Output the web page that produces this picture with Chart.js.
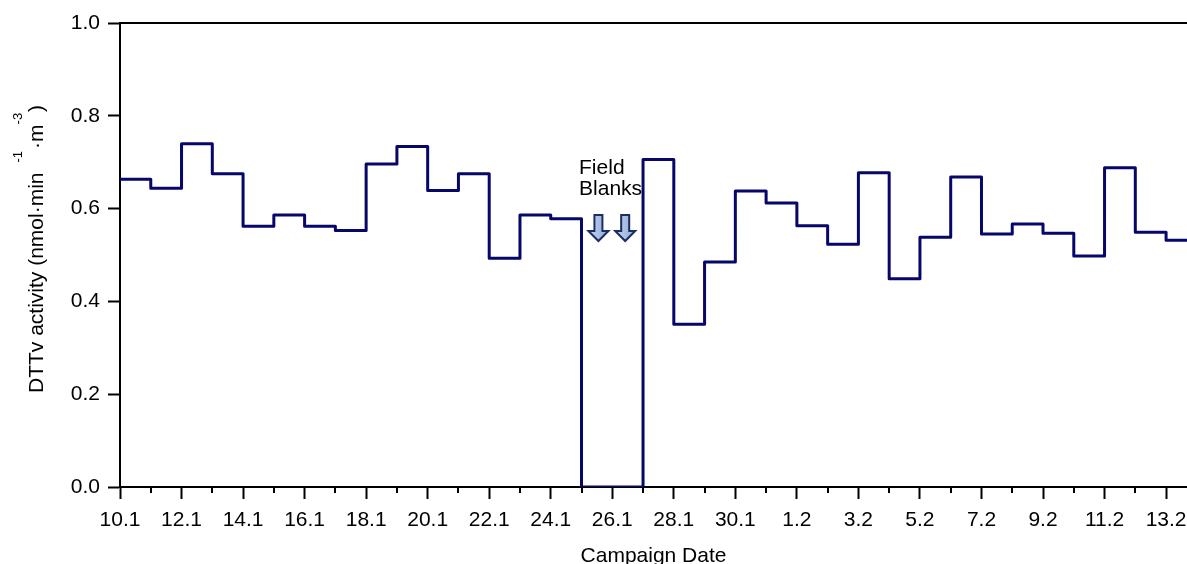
<!DOCTYPE html>
<html>
<head>
<meta charset="utf-8">
<script src="https://cdn.jsdelivr.net/npm/chart.js@4.4.1/dist/chart.umd.min.js"></script>
<style>
  html, body { margin: 0; padding: 0; background: #ffffff; }
  #wrap { width: 1187px; height: 564px; }
</style>
</head>
<body>
<div id="wrap"><canvas id="chart" width="1187" height="564"></canvas></div>
<script>
// Daily filter samples, 10 January to 13 February
const sampleDays = [
  '10.1', '11.1', '12.1', '13.1', '14.1', '15.1', '16.1', '17.1', '18.1', '19.1',
  '20.1', '21.1', '22.1', '23.1', '24.1', '25.1', '26.1', '27.1', '28.1', '29.1',
  '30.1', '31.1', '1.2', '2.2', '3.2', '4.2', '5.2', '6.2', '7.2', '8.2',
  '9.2', '10.2', '11.2', '12.2', '13.2'
];

// Volume-normalised DTT activity, nmol·min⁻¹·m⁻³ (25.1 and 26.1 are field blanks)
const dttActivity = [
  0.663, 0.644, 0.740, 0.675, 0.562, 0.586, 0.562, 0.553, 0.696, 0.734,
  0.639, 0.675, 0.493, 0.586, 0.578, 0.000, 0.000, 0.706, 0.351, 0.485,
  0.638, 0.612, 0.563, 0.523, 0.677, 0.449, 0.538, 0.668, 0.545, 0.567,
  0.547, 0.498, 0.688, 0.549, 0.532
];

const yTickValues = [0.0, 0.2, 0.4, 0.6, 0.8, 1.0];

// "Field Blanks" note: text anchor and arrow tips, in axis units
const blankNoteAt = { x: 14.92, y: 0.674 };
const blankArrowX = [15.55, 16.42];
const blankArrowTipY = 0.530;

const FONT = '"Liberation Sans", Arial, Helvetica, sans-serif';
const FONT_SIZE = 21;
const INK = '#000000';
const LINE = '#07076a';

// each sample holds its value for one whole day: start points + closing point
const stepPoints = dttActivity.map((v, i) => ({ x: i, y: v }));
stepPoints.push({ x: dttActivity.length, y: dttActivity[dttActivity.length - 1] });

function drawYTitle(ctx, area) {
  const main = FONT_SIZE + 'px ' + FONT;
  const sup = '13px ' + FONT;
  const parts = [
    { t: 'DTTv activity (nmol·min', f: main, raise: 0, gap: 0 },
    { t: '-1', f: sup, raise: 21, gap: 10 },
    { t: '·', f: main, raise: 0, gap: 2 },
    { t: 'm', f: main, raise: 0, gap: 0 },
    { t: '-3', f: sup, raise: 21, gap: 0 },
    { t: ')', f: main, raise: 0, gap: 1 }
  ];
  ctx.save();
  ctx.translate(area.left - 77, area.bottom - 94);
  ctx.rotate(-Math.PI / 2);
  ctx.fillStyle = INK;
  ctx.textBaseline = 'alphabetic';
  ctx.textAlign = 'left';
  let pos = 0;
  for (const p of parts) {
    ctx.font = p.f;
    pos += p.gap;
    ctx.fillText(p.t, pos, -p.raise);
    pos += ctx.measureText(p.t).width;
  }
  ctx.restore();
}

function drawDownArrow(ctx, cx, tipY) {
  const len = 26, headLen = 10, shaftHalf = 4, headHalf = 10;
  const top = tipY - len, neck = tipY - headLen;
  ctx.beginPath();
  ctx.moveTo(cx - shaftHalf, top);
  ctx.lineTo(cx + shaftHalf, top);
  ctx.lineTo(cx + shaftHalf, neck);
  ctx.lineTo(cx + headHalf, neck);
  ctx.lineTo(cx, tipY);
  ctx.lineTo(cx - headHalf, neck);
  ctx.lineTo(cx - shaftHalf, neck);
  ctx.closePath();
  const g = ctx.createLinearGradient(cx - headHalf, 0, cx + headHalf, 0);
  g.addColorStop(0, '#c3d3ee');
  g.addColorStop(1, '#8eaad8');
  ctx.fillStyle = g;
  ctx.fill();
  ctx.lineWidth = 2;
  ctx.lineJoin = 'miter';
  ctx.strokeStyle = '#1b2d62';
  ctx.stroke();
}

const framePlugin = {
  id: 'frame',
  beforeDatasetsDraw(chart) {
    const { ctx, chartArea: a, scales: { x } } = chart;
    ctx.save();
    ctx.strokeStyle = '#000000';
    ctx.lineWidth = 2;
    ctx.beginPath();
    // closing line along the top of the plot
    ctx.moveTo(a.left, Math.round(a.top));
    ctx.lineTo(a.right, Math.round(a.top));
    // short minor ticks on the odd days
    for (let i = 1; i < sampleDays.length; i += 2) {
      const px = Math.round(x.getPixelForValue(i));
      ctx.moveTo(px, a.bottom);
      ctx.lineTo(px, a.bottom + 6);
    }
    ctx.stroke();
    ctx.restore();
  },
  afterDraw(chart) {
    const { ctx, chartArea: a, scales: { x, y } } = chart;
    drawYTitle(ctx, a);

    ctx.save();
    ctx.fillStyle = INK;
    ctx.font = FONT_SIZE + 'px ' + FONT;
    ctx.textAlign = 'left';
    ctx.textBaseline = 'alphabetic';
    const tx = x.getPixelForValue(blankNoteAt.x);
    const ty = y.getPixelForValue(blankNoteAt.y);
    ctx.fillText('Field', tx, ty);
    ctx.fillText('Blanks', tx, ty + 21);
    const tipY = y.getPixelForValue(blankArrowTipY);
    blankArrowX.forEach(v => drawDownArrow(ctx, x.getPixelForValue(v), tipY));
    ctx.restore();
  }
};

new Chart(document.getElementById('chart'), {
  type: 'line',
  data: {
    datasets: [{
      label: 'DTTv activity',
      data: stepPoints,
      stepped: 'before',
      borderColor: LINE,
      borderWidth: 3,
      borderJoinStyle: 'round',
      pointRadius: 0,
      pointHoverRadius: 0,
      fill: false
    }]
  },
  plugins: [framePlugin],
  options: {
    responsive: false,
    animation: false,
    devicePixelRatio: 1,
    layout: { padding: { top: 23, right: 0, bottom: 0, left: 0 } },
    plugins: {
      legend: { display: false },
      tooltip: { enabled: false }
    },
    scales: {
      x: {
        type: 'linear',
        position: 'bottom',
        min: 0,
        max: 34.68,
        afterFit(scale) {
          scale.height = 77;
          scale.paddingLeft = 0;
          scale.paddingRight = 0;
        },
        border: { display: true, color: '#000000', width: 2 },
        grid: {
          display: true,
          drawOnChartArea: false,
          drawTicks: true,
          tickLength: 12,
          tickColor: '#000000',
          tickWidth: 2
        },
        ticks: {
          stepSize: 2,
          includeBounds: false,
          autoSkip: false,
          maxRotation: 0,
          padding: 9,
          color: INK,
          font: { family: FONT, size: FONT_SIZE },
          callback: (v) => sampleDays[v] ?? ''
        },
        title: {
          display: true,
          text: 'Campaign Date',
          color: INK,
          font: { family: FONT, size: FONT_SIZE },
          padding: { top: 0, bottom: -5 }
        }
      },
      y: {
        min: 0,
        max: 1,
        afterFit(scale) {
          scale.width = 120;
          scale.paddingTop = 0;
          scale.paddingBottom = 0;
        },
        afterBuildTicks(scale) { scale.ticks = yTickValues.map(v => ({ value: v })); },
        border: { display: true, color: '#000000', width: 2 },
        grid: {
          display: true,
          drawOnChartArea: false,
          drawTicks: true,
          tickLength: 12,
          tickColor: '#000000',
          tickWidth: 2
        },
        ticks: {
          padding: 8,
          color: INK,
          font: { family: FONT, size: FONT_SIZE },
          callback: (v) => Number(v).toFixed(1)
        }
      }
    }
  }
});
</script>
</body>
</html>
